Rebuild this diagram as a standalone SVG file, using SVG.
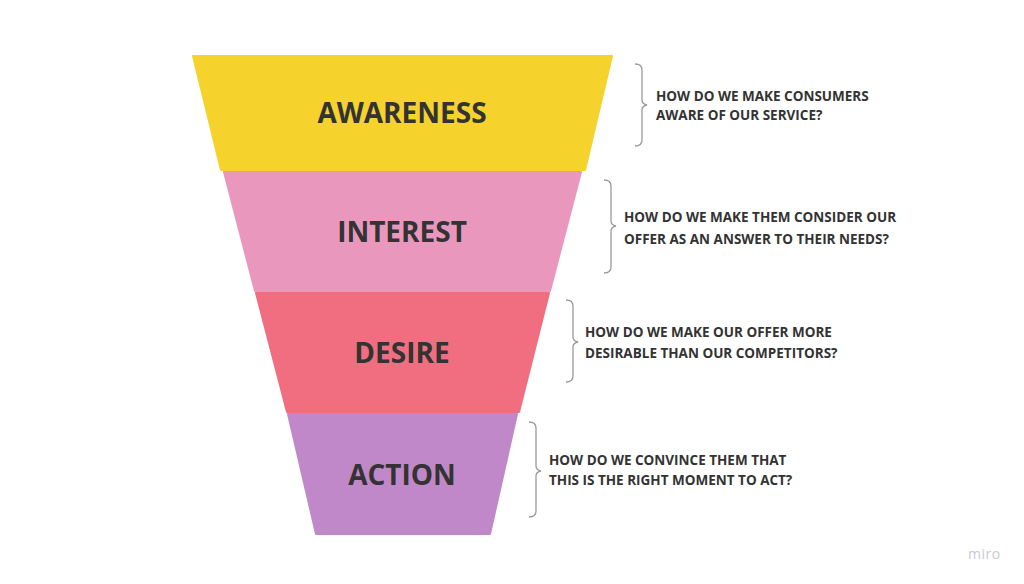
<svg xmlns="http://www.w3.org/2000/svg" width="1024" height="584" viewBox="0 0 1024 584">
<style>
.stage{stroke-linejoin:round;stroke-width:2}
.title{font-family:"Open Sans","Liberation Sans",sans-serif;font-weight:700;font-size:28px;fill:#333333;text-anchor:middle}
.q{font-family:"Open Sans","Liberation Sans",sans-serif;font-weight:700;font-size:13.5px;fill:#333333}
.brace{fill:none;stroke:#9a9a9a;stroke-width:1.3}
</style>
<rect width="1024" height="584" fill="#ffffff"/>
<g id="awareness">
<polygon class="stage" points="193,56 612,56 585,170 221,170" fill="#F5D22C" stroke="#F5D22C"/>
<text class="title" x="402" y="123">AWARENESS</text>
</g>
<g id="interest">
<polygon class="stage" points="224,172 581,172 550,291 255,291" fill="#EA97BE" stroke="#EA97BE"/>
<text class="title" x="402" y="242">INTEREST</text>
</g>
<g id="desire">
<polygon class="stage" points="256,293 549,293 519,412 287,412" fill="#F06E7F" stroke="#F06E7F"/>
<text class="title" x="402" y="363">DESIRE</text>
</g>
<g id="action">
<polygon class="stage" points="288,414 517,414 490,534 316,534" fill="#C088C8" stroke="#C088C8"/>
<text class="title" x="402" y="485">ACTION</text>
</g>
<g id="connectors">
<path class="brace" d="M635,64 Q642,64 642,70 L642,100 Q642,104 647,105 Q642,106 642,110 L642,140 Q642,146 635,146"/>
<path class="brace" d="M604,180 Q611,180 611,186 L611,221 Q611,225 616,226 Q611,227 611,231 L611,267 Q611,273 604,273"/>
<path class="brace" d="M566,300 Q573,300 573,306 L573,337 Q573,341 578,342 Q573,343 573,347 L573,376 Q573,382 566,382"/>
<path class="brace" d="M529,422 Q536,422 536,428 L536,466 Q536,470 541,471 Q536,472 536,476 L536,511 Q536,517 529,517"/>
</g>
<g id="q-awareness">
<text class="q" x="656" y="101">HOW DO WE MAKE CONSUMERS</text>
<text class="q" x="656" y="120">AWARE OF OUR SERVICE?</text>
</g>
<g id="q-interest">
<text class="q" x="624" y="222">HOW DO WE MAKE THEM CONSIDER OUR</text>
<text class="q" x="624" y="244">OFFER AS AN ANSWER TO THEIR NEEDS?</text>
</g>
<g id="q-desire">
<text class="q" x="585" y="337">HOW DO WE MAKE OUR OFFER MORE</text>
<text class="q" x="585" y="358">DESIRABLE THAN OUR COMPETITORS?</text>
</g>
<g id="q-action">
<text class="q" x="549" y="465">HOW DO WE CONVINCE THEM THAT</text>
<text class="q" x="549" y="485">THIS IS THE RIGHT MOMENT TO ACT?</text>
</g>
<text x="968" y="559" font-family="'Open Sans','Liberation Sans',sans-serif" font-size="14" fill="#c9c9d2" letter-spacing="0.5">miro</text>
</svg>
